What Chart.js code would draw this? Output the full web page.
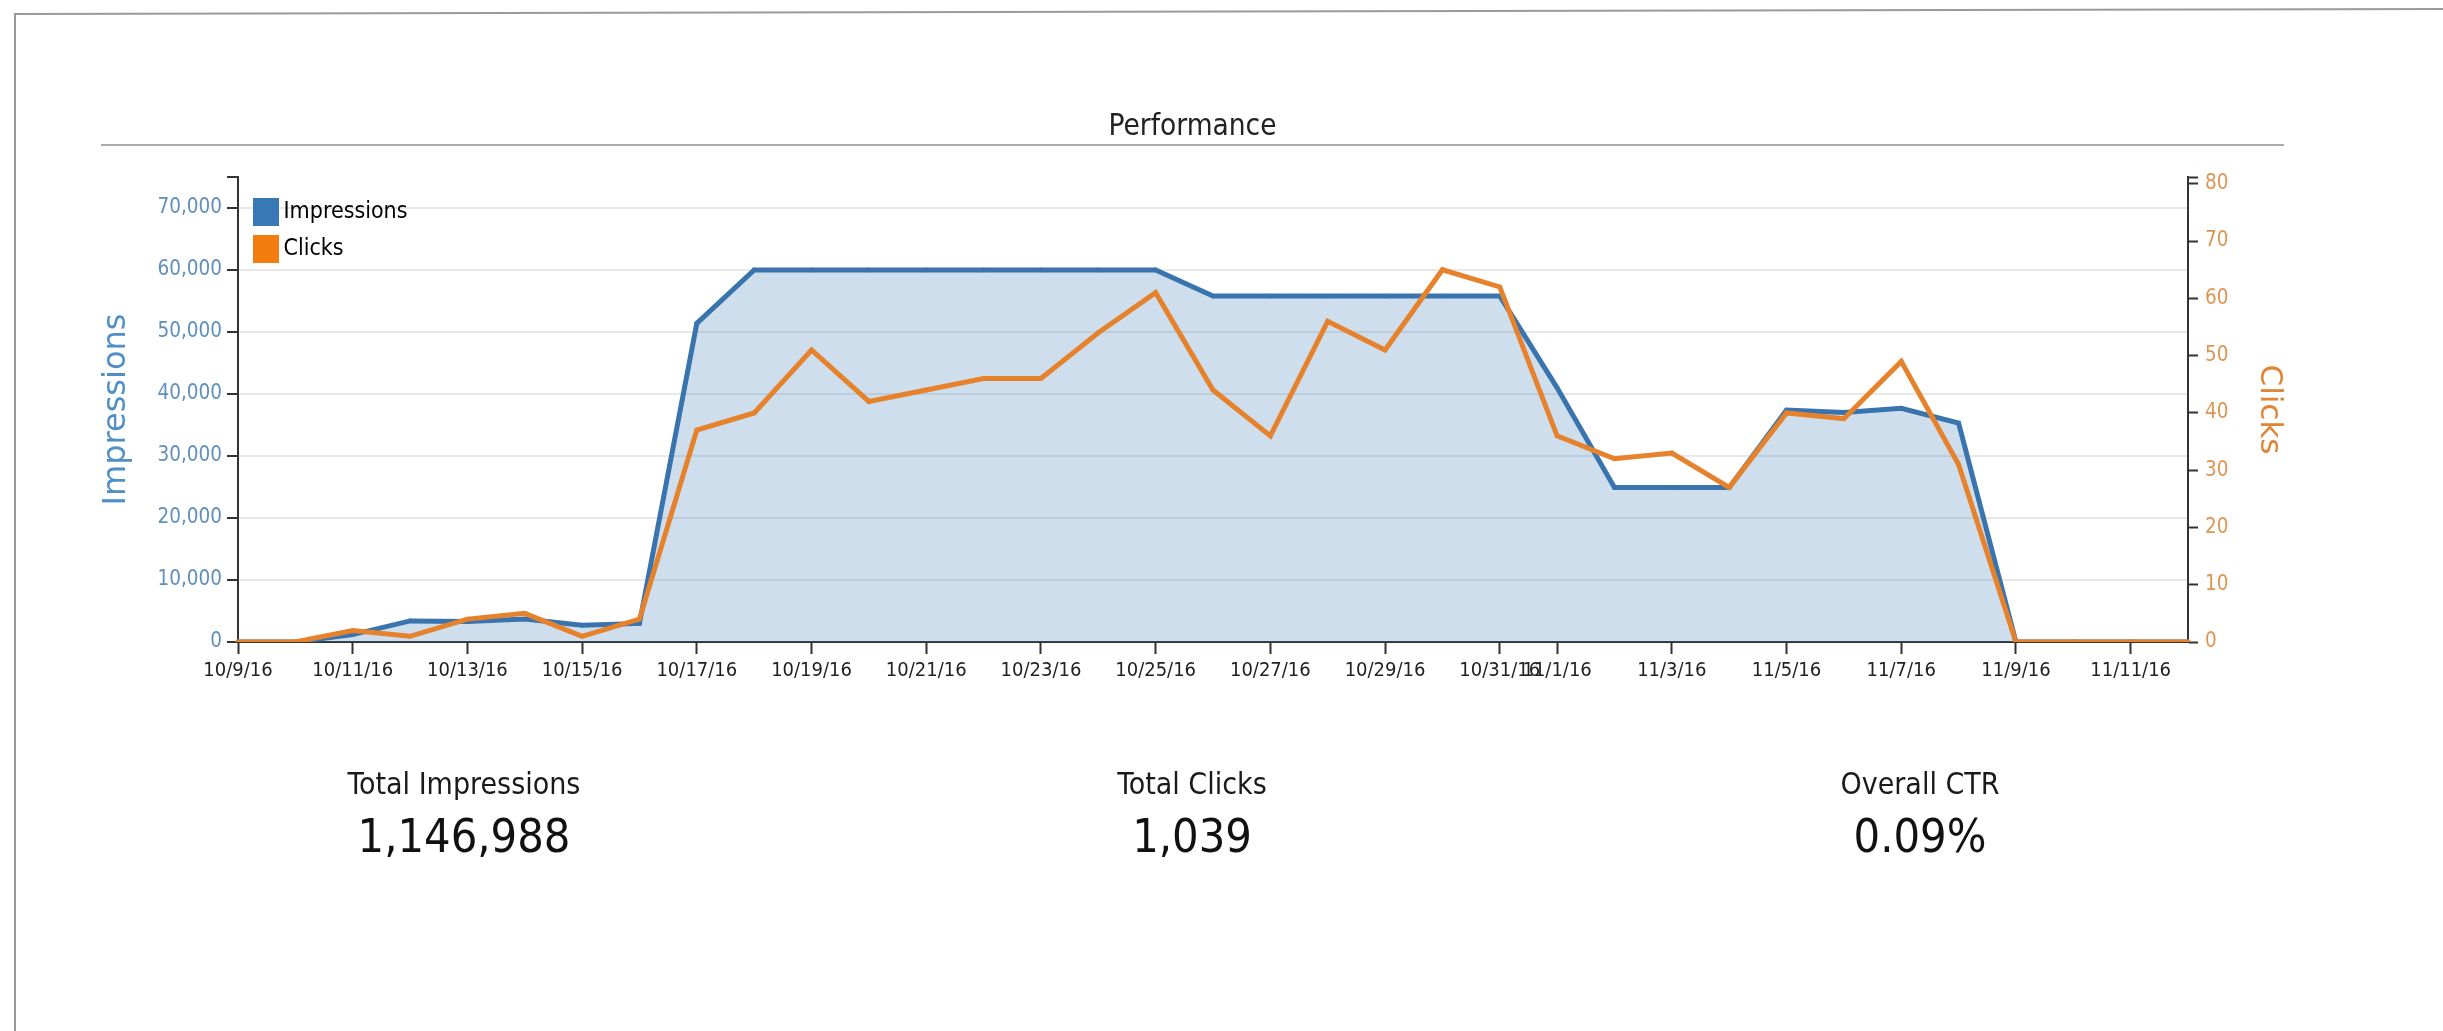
<!DOCTYPE html>
<html>
<head>
<meta charset="utf-8">
<script src="https://cdn.jsdelivr.net/npm/chart.js@4.4.0/dist/chart.umd.min.js"></script>
<style>
  html, body { margin: 0; padding: 0; background: #fff; overflow: hidden; }
  #wrap { position: absolute; left: 0; top: 0; width: 2443px; height: 1031px; }
  #chartBox { position: absolute; left: 0; top: 0; width: 2443px; height: 1031px; }
  .cf { font-family: 'DejaVu Sans Condensed', 'DejaVu Sans', sans-serif; }
  #frameTop { position: absolute; left: 14px; top: 13px; width: 2440px; height: 0; border-top: 2px solid #9a9a9a; transform: rotate(-0.12deg); transform-origin: 0 0; }
  #frameLeft { position: absolute; left: 14px; top: 13px; width: 0; height: 1030px; border-left: 2px solid #9a9a9a; }
  #title { position: absolute; left: 101px; top: 107px; width: 2183px; text-align: center; font-size: 29.5px; line-height: 36px; color: #222; }
  #titleLine { position: absolute; left: 101px; top: 144px; width: 2183px; height: 0; border-top: 2px solid #ababab; }
  .stat { position: absolute; width: 728px; text-align: center; color: #1a1a1a; }
  .stat .lab { position: absolute; left: 0; width: 728px; top: 3px; font-size: 30px; line-height: 36px; }
  .stat .val { position: absolute; left: 0; width: 728px; top: 45px; font-size: 46.5px; line-height: 56px; color: #111; }
</style>
</head>
<body>
<div id="wrap">
  <div id="chartBox"><canvas id="c"></canvas></div>
  <div id="frameTop"></div>
  <div id="frameLeft"></div>
  <div id="title" class="cf">Performance</div>
  <div id="titleLine"></div>
  <div id="stats"></div>
</div>
<script>
// ---- data ----
const dates = [
  '10/9/16','10/10/16','10/11/16','10/12/16','10/13/16','10/14/16','10/15/16','10/16/16',
  '10/17/16','10/18/16','10/19/16','10/20/16','10/21/16','10/22/16','10/23/16','10/24/16',
  '10/25/16','10/26/16','10/27/16','10/28/16','10/29/16','10/30/16','10/31/16','11/1/16',
  '11/2/16','11/3/16','11/4/16','11/5/16','11/6/16','11/7/16','11/8/16','11/9/16',
  '11/10/16','11/11/16','11/12/16'
];
const xTickLabels = [
  '10/9/16','10/11/16','10/13/16','10/15/16','10/17/16','10/19/16','10/21/16','10/23/16',
  '10/25/16','10/27/16','10/29/16','10/31/16','11/1/16','11/3/16','11/5/16','11/7/16',
  '11/9/16','11/11/16'
];
const impressions = [
  0, 0, 1200, 3400, 3300, 3700, 2700, 3000,
  51400, 60000, 60000, 60000, 60000, 60000, 60000, 60000,
  60000, 55800, 55800, 55800, 55800, 55800, 55800, 41000,
  24900, 24900, 24900, 37400, 37000, 37700, 35300, 0,
  0, 0, 0
];
const clicks = [
  0, 0, 2, 1, 4, 5, 1, 4,
  37, 40, 51, 42, 44, 46, 46, 54,
  61, 44, 36, 56, 51, 65, 62, 36,
  32, 33, 27, 40, 39, 49, 31, 0,
  0, 0, 0
];
const seriesNames = ['Impressions', 'Clicks'];
const statLabels = ['Total Impressions', 'Total Clicks', 'Overall CTR'];
const statValues = ['1,146,988', '1,039', '0.09%'];
const leftMax = 75000, leftStep = 10000;
const rightMax = 81.2, rightStep = 10;

// ---- styles ----
const FONT_C = "'DejaVu Sans Condensed', 'DejaVu Sans', sans-serif";
const FONT = "'DejaVu Sans', sans-serif";
const BLUE = '#3a74ae';
const BLUE_FILL = 'rgba(60,122,180,0.25)';
const ORANGE = '#e6822c';
const LEG_BLUE = '#3878b6';
const LEG_ORANGE = '#f07d0e';
const AXIS = '#333333';
const GRID = 'rgba(0,0,0,0.09)';

// stats (HTML text)
const statsEl = document.getElementById('stats');
statLabels.forEach((l, i) => {
  const d = document.createElement('div');
  d.className = 'stat cf';
  d.style.left = (100 + i * 728) + 'px';
  d.style.top = '763px';
  d.innerHTML = '<div class="lab"></div><div class="val"></div>';
  d.querySelector('.lab').textContent = l;
  d.querySelector('.val').textContent = statValues[i];
  statsEl.appendChild(d);
});

const legendPlacer = {
  id: 'legendPlacer',
  afterLayout(chart) {
    const lg = chart.legend;
    if (!lg) return;
    const a = chart.chartArea;
    lg.left = a.left + 8;
    lg.top = a.top + 9.5;
    lg.right = lg.left + 300;
    lg.bottom = lg.top + 200;
  }
};

const fmt = new Intl.NumberFormat('en-US');

new Chart(document.getElementById('c'), {
  type: 'line',
  data: {
    labels: dates,
    datasets: [
      {
        label: seriesNames[1],
        data: clicks,
        yAxisID: 'yR',
        borderColor: ORANGE,
        backgroundColor: ORANGE,
        borderWidth: 5,
        pointRadius: 2.4,
        pointBackgroundColor: ORANGE,
        pointBorderWidth: 0,
        tension: 0,
        fill: false
      },
      {
        label: seriesNames[0],
        data: impressions,
        yAxisID: 'yL',
        borderColor: BLUE,
        backgroundColor: BLUE_FILL,
        borderWidth: 5,
        pointRadius: 2.4,
        pointBackgroundColor: BLUE,
        pointBorderWidth: 0,
        tension: 0,
        fill: 'origin'
      }
    ]
  },
  options: {
    responsive: true,
    maintainAspectRatio: false,
    animation: false,
    layout: { padding: { left: 90, right: 155, top: 177, bottom: 0 } },
    plugins: {
      title: { display: false },
      tooltip: { enabled: false },
      legend: {
        position: 'chartArea',
        align: 'start',
        labels: {
          boxWidth: 12,
          boxHeight: 14,
          padding: 14,
          color: '#2a2a2a',
          font: { family: FONT_C, size: 23 },
          generateLabels: () => [
            { text: seriesNames[0], fillStyle: LEG_BLUE, strokeStyle: LEG_BLUE, lineWidth: 14, lineJoin: 'miter', hidden: false, datasetIndex: 1 },
            { text: seriesNames[1], fillStyle: LEG_ORANGE, strokeStyle: LEG_ORANGE, lineWidth: 14, lineJoin: 'miter', hidden: false, datasetIndex: 0 }
          ]
        }
      }
    },
    scales: {
      x: {
        type: 'category',
        offset: false,
        afterFit: (s) => { s.height = 389; },
        grid: {
          drawOnChartArea: false,
          drawTicks: true,
          tickLength: 12,
          tickWidth: 2,
          tickColor: (ctx) => (ctx.index !== undefined && xTickLabels.includes(dates[ctx.index])) ? AXIS : 'rgba(0,0,0,0)'
        },
        border: { display: true, color: AXIS, width: 2 },
        ticks: {
          autoSkip: false,
          maxRotation: 0,
          minRotation: 0,
          padding: 5,
          color: '#222',
          font: { family: FONT_C, size: 20 },
          callback: function (v) {
            const l = this.getLabelForValue(v);
            return xTickLabels.includes(l) ? l : '';
          }
        }
      },
      yL: {
        position: 'left',
        min: 0,
        bounds: 'data',
        afterDataLimits: (s) => { s.min = 0; s.max = leftMax; },
        afterFit: (s) => { s.width = 148; },
        afterBuildTicks: (s) => {
          if (!s.ticks.some(t => t.value >= leftMax)) s.ticks.push({ value: leftMax });
        },
        grid: {
          color: (ctx) => (ctx.tick && ctx.tick.value >= leftMax) ? 'rgba(0,0,0,0)' : GRID,
          lineWidth: 2,
          tickColor: AXIS,
          tickLength: 11,
          tickWidth: 2
        },
        border: { display: true, color: AXIS, width: 2 },
        ticks: {
          stepSize: leftStep,
          padding: 5,
          color: '#5f8fbd',
          font: { family: FONT_C, size: 20.5 },
          callback: (v) => v >= leftMax ? '' : fmt.format(v)
        },
        title: {
          display: true,
          text: seriesNames[0],
          color: '#4f8fc6',
          font: { family: FONT, size: 32 },
          padding: { top: 7, bottom: 0 }
        }
      },
      yR: {
        position: 'right',
        min: 0,
        max: rightMax,
        bounds: 'data',
        afterFit: (s) => { s.width = 100; },
        afterBuildTicks: (s) => {
          if (!s.ticks.some(t => t.value >= rightMax)) s.ticks.push({ value: rightMax });
        },
        grid: {
          drawOnChartArea: false,
          tickColor: AXIS,
          tickLength: 10,
          tickWidth: 2
        },
        border: { display: true, color: AXIS, width: 2 },
        ticks: {
          stepSize: rightStep,
          includeBounds: false,
          padding: 7,
          color: '#df9552',
          font: { family: FONT_C, size: 20.5 },
          callback: (v) => v >= rightMax ? '' : fmt.format(v)
        },
        title: {
          display: true,
          text: seriesNames[1],
          color: '#e08535',
          font: { family: FONT, size: 31 },
          padding: { top: 0, bottom: 0 }
        }
      }
    }
  },
  plugins: [legendPlacer]
});
</script>
</body>
</html>
